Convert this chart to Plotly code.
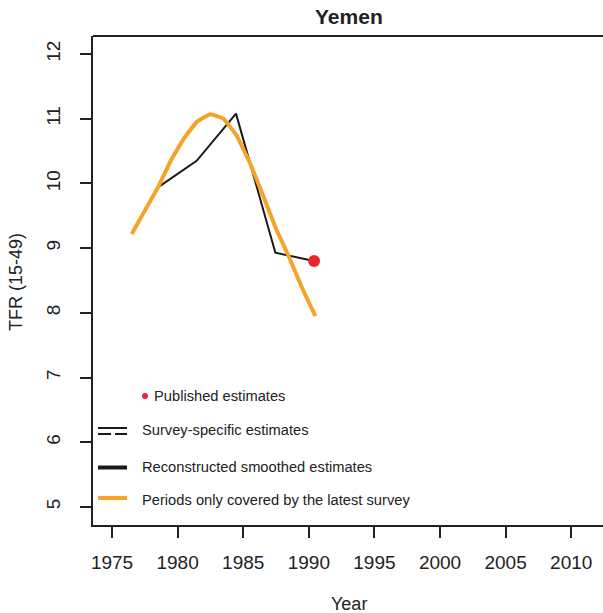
import plotly.graph_objects as go

# Data
survey_years = [1978.5, 1981.45, 1984.45, 1987.45, 1990.4]
survey_tfr = [9.94, 10.35, 11.08, 8.93, 8.80]

latest_years = [1976.5, 1977.5, 1978.5, 1979.5, 1980.5, 1981.5, 1982.5, 1983.5,
                1984.5, 1985.5, 1986.5, 1987.5, 1988.5, 1989.5, 1990.5]
latest_tfr = [9.22, 9.58, 9.94, 10.36, 10.70, 10.96, 11.07, 11.00,
              10.74, 10.32, 9.82, 9.30, 8.86, 8.38, 7.95]

published_years = [1990.4]
published_tfr = [8.80]

x_ticks = [1975, 1980, 1985, 1990, 1995, 2000, 2005, 2010]
y_ticks = [5, 6, 7, 8, 9, 10, 11, 12]

ORANGE = "#F6A32A"
RED = "#E8262E"
FONT = "Liberation Sans, Arial, sans-serif"

W, H = 603, 613
L, R, T, B = 93, 0, 36, 88
PW = W - L - R
PH = H - T - B

def px(x):
    return (x - L) / PW

def py(y):
    return (H - B - y) / PH

fig = go.Figure()
fig.add_trace(go.Scatter(x=survey_years, y=survey_tfr, mode="lines",
                         line=dict(color="#1a1a1a", width=2), showlegend=False))
fig.add_trace(go.Scatter(x=latest_years, y=latest_tfr, mode="lines",
                         line=dict(color=ORANGE, width=4, shape="spline", smoothing=0.3),
                         showlegend=False))
fig.add_trace(go.Scatter(x=published_years, y=published_tfr, mode="markers",
                         marker=dict(color=RED, size=12), showlegend=False))

shapes = []
# top border
shapes.append(dict(type="line", xref="paper", yref="paper", x0=0, x1=1, y0=1, y1=1,
                   line=dict(color="#222", width=2)))
# legend
shapes.append(dict(type="circle", xref="paper", yref="paper",
                   x0=px(142), x1=px(148), y0=py(399), y1=py(393),
                   fillcolor=RED, line=dict(width=0)))
shapes.append(dict(type="line", xref="paper", yref="paper", x0=px(98), x1=px(127),
                   y0=py(428), y1=py(428), line=dict(color="#1a1a1a", width=2)))
shapes.append(dict(type="line", xref="paper", yref="paper", x0=px(98), x1=px(111),
                   y0=py(434), y1=py(434), line=dict(color="#1a1a1a", width=2)))
shapes.append(dict(type="line", xref="paper", yref="paper", x0=px(115), x1=px(127),
                   y0=py(434), y1=py(434), line=dict(color="#1a1a1a", width=2)))
shapes.append(dict(type="line", xref="paper", yref="paper", x0=px(98), x1=px(127),
                   y0=py(467.5), y1=py(467.5), line=dict(color="#1a1a1a", width=4)))
shapes.append(dict(type="line", xref="paper", yref="paper", x0=px(98), x1=px(127),
                   y0=py(498), y1=py(498), line=dict(color=ORANGE, width=4)))

ann = []
def txt(x, y, s, size=14.7, xanchor="left", **kw):
    ann.append(dict(x=px(x), y=py(y), xref="paper", yref="paper", text=s,
                    showarrow=False, xanchor=xanchor, yanchor="middle",
                    font=dict(family=FONT, size=size, color="#222"), **kw))

txt(152, 396, "Published estimates")
txt(140, 430, "Survey-specific estimates")
txt(140, 467, "Reconstructed smoothed estimates")
txt(140, 500, "Periods only covered by the latest survey")
txt(349, 604, "Year", size=18, xanchor="center")
txt(16, 282, "TFR (15-49)", size=18, xanchor="center", textangle=-90)
txt(349, 16, "<b>Yemen</b>", size=21, xanchor="center")

fig.update_layout(
    width=W, height=H, margin=dict(l=L, r=R, t=T, b=B),
    paper_bgcolor="white", plot_bgcolor="white",
    shapes=shapes, annotations=ann, showlegend=False,
    font=dict(family=FONT, color="#222"),
)
fig.update_xaxes(range=[1973.55, 1973.55 + PW / 13.12], tickvals=x_ticks,
                 ticktext=[str(v) for v in x_ticks],
                 showgrid=False, zeroline=False, showline=True, linecolor="#222", linewidth=2,
                 ticks="outside", ticklen=11, tickwidth=2, tickcolor="#222",
                 tickfont=dict(family=FONT, size=19, color="#222"), ticklabelstandoff=8)
fig.update_yaxes(range=[4.72, 12.28], tickvals=y_ticks,
                 ticktext=[str(v) for v in y_ticks],
                 showgrid=False, zeroline=False, showline=True, linecolor="#222", linewidth=2,
                 ticks="outside", ticklen=11, tickwidth=2, tickcolor="#222", tickangle=-90,
                 tickfont=dict(family=FONT, size=19, color="#222"), ticklabelstandoff=12)

fig.write_html("out.html", config={"displayModeBar": False},
               post_script="document.body.style.margin='0';document.body.style.overflow='hidden';")
